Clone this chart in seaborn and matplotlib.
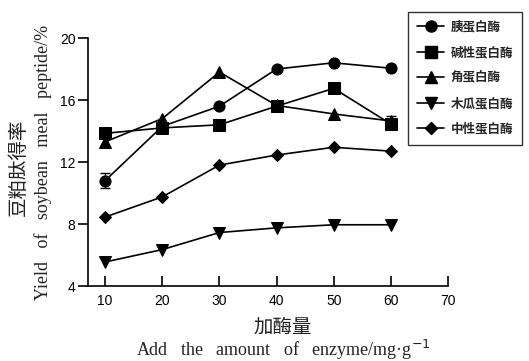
import matplotlib
matplotlib.use("Agg")
import matplotlib.pyplot as plt
import seaborn as sns
import pandas as pd
from matplotlib.lines import Line2D

# Enzyme dosage (mg/g) and peptide yield (%) for each protease
dosage = [10, 20, 30, 40, 50, 60]
trypsin = [10.8, 14.3, 15.6, 18.0, 18.4, 18.05]
alkaline = [13.85, 14.2, 14.4, 15.6, 16.75, 14.45]
keratinase = [13.3, 14.8, 17.8, 15.65, 15.1, 14.65]
papain = [5.55, 6.35, 7.45, 7.75, 7.95, 7.95]
neutral = [8.45, 9.75, 11.8, 12.45, 12.95, 12.7]

series_names = ["胰蛋白酶", "碱性蛋白酶", "角蛋白酶", "木瓜蛋白酶", "中性蛋白酶"]
series_values = [trypsin, alkaline, keratinase, papain, neutral]
markers = ["o", "s", "^", "v", "D"]
marker_sizes = [8, 8, 8, 8, 6]

# Error bars reported for individual points
err_trypsin = [0.5, 0, 0, 0, 0, 0]
err_alkaline = [0, 0, 0, 0, 0, 0.5]

sns.set_theme(style="white")
plt.rcParams["font.family"] = ["Liberation Sans", "Noto Sans CJK SC", "DejaVu Sans"]

rows = []
for name, vals in zip(series_names, series_values):
    for x, y in zip(dosage, vals):
        rows.append({"dosage": x, "yield": y, "enzyme": name})
df = pd.DataFrame(rows)

fig = plt.figure(figsize=(5.29, 3.61), dpi=100)
ax = fig.add_axes([88 / 529, 1 - 286 / 361, (448 - 88) / 529, (286 - 38) / 361])

sns.lineplot(data=df, x="dosage", y="yield", hue="enzyme", style="enzyme",
             hue_order=series_names, style_order=series_names,
             palette=["black"] * 5, markers=markers, dashes=False,
             markersize=8, linewidth=1.2, markeredgecolor="black",
             ax=ax, legend=False)

# Diamonds are drawn a little smaller than the other markers
for line, ms in zip(ax.lines, marker_sizes):
    line.set_markersize(ms)

ax.errorbar(dosage[:1], trypsin[:1], yerr=err_trypsin[:1], fmt="none",
            ecolor="black", elinewidth=1.0, capsize=3.5, capthick=1.0)
ax.errorbar(dosage[-1:], alkaline[-1:], yerr=[[0], err_alkaline[-1:]], fmt="none",
            ecolor="black", elinewidth=1.0, capsize=3.5, capthick=1.0)

ax.set_xlim(7, 70)
ax.set_ylim(4, 20)
ax.set_xticks([10, 20, 30, 40, 50, 60, 70])
ax.set_yticks([4, 8, 12, 16, 20])
ax.set_xlabel("")
ax.set_ylabel("")
for s in ["top", "right"]:
    ax.spines[s].set_visible(False)
for s in ["left", "bottom"]:
    ax.spines[s].set_color("black")
    ax.spines[s].set_linewidth(1.2)
ax.tick_params(axis="x", direction="in", length=7, width=1.2, colors="black",
               labelsize=10, pad=6, bottom=True)
ax.tick_params(axis="y", direction="out", length=7, width=1.2, colors="black",
               labelsize=10, pad=2, left=True)

# Axis titles (Chinese + English)
serif = ["Liberation Serif", "Noto Sans CJK SC"]
fig.text(283 / 529, 1 - 327 / 361, "加酶量", family=["Noto Sans CJK SC"],
         fontsize=14, ha="center", va="center", color="#222222")
fig.text(283 / 529, 1 - 356 / 361, "Add   the   amount   of   enzyme/mg\u00b7g$^{-1}$",
         family=serif, fontsize=13, ha="center", va="baseline", color="#222222")
fig.text(18 / 529, 1 - 167 / 361, "豆粕肽得率", family=["Noto Sans CJK SC"],
         fontsize=14, rotation=90, ha="center", va="center", color="#222222")
fig.text(43 / 529, 1 - 162 / 361, "Yield   of   soybean   meal   peptide/%",
         family=serif, fontsize=13, rotation=90, ha="center", va="center",
         color="#222222")

# Legend
handles = [Line2D([0], [0], color="black", lw=1.2, marker=m, markersize=ms,
                  markeredgecolor="black", markerfacecolor="black")
           for m, ms in zip(markers, marker_sizes)]
leg = fig.legend(handles, series_names, loc="upper left",
                 bbox_to_anchor=(408 / 529, 1 - 12 / 361),
                 bbox_transform=fig.transFigure,
                 prop={"family": "Noto Sans CJK SC", "size": 9, "weight": "bold"},
                 frameon=True, fancybox=False, edgecolor="black",
                 handlelength=2.2, handletextpad=0.5, labelspacing=1.0,
                 borderpad=0.7, borderaxespad=0)
leg.get_frame().set_linewidth(1.0)

fig.savefig("out.png", dpi=100)
